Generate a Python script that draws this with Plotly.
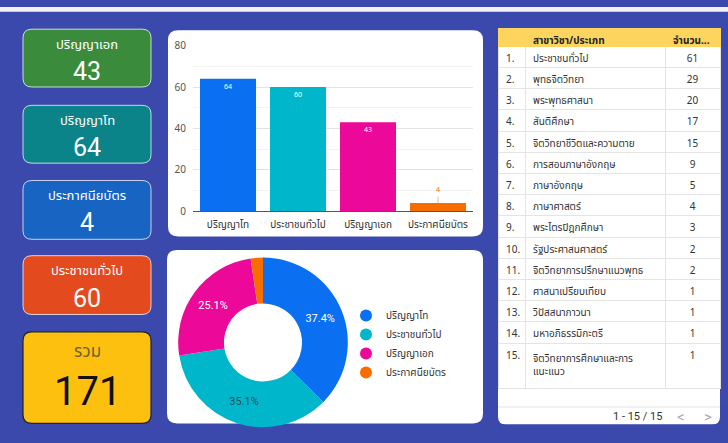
import plotly.graph_objects as go

W, H = 728, 443

# ---------------- data ----------------
kpi_titles = ["ปริญญาเอก", "ปริญญาโท", "ประกาศนียบัตร", "ประชาชนทั่วไป"]
kpi_values = [43, 64, 4, 60]
total_title = "รวม"
total_value = 171

bar_categories = ["ปริญญาโท", "ประชาชนทั่วไป", "ปริญญาเอก", "ประกาศนียบัตร"]
bar_values = [64, 60, 43, 4]

table_index = [f"{i}." for i in range(1, 16)]
table_names = [
    "ประชาชนทั่วไป", "พุทธจิตวิทยา", "พระพุทธศาสนา", "สันติศึกษา",
    "จิตวิทยาชีวิตและความตาย", "การสอนภาษาอังกฤษ", "ภาษาอังกฤษ", "ภาษาศาสตร์",
    "พระไตรปิฎกศึกษา", "รัฐประศาสนศาสตร์", "จิตวิทยาการปรึกษาแนวพุทธ",
    "ศาสนาเปรียบเทียบ", "วิปัสสนาภาวนา", "มหาอภิธรรมิกะตรี",
    "จิตวิทยาการศึกษาและการ<br>แนะแนว",
]
table_counts = [61, 29, 20, 17, 15, 9, 5, 4, 3, 2, 2, 1, 1, 1, 1]
table_header = [" ", "สาขาวิชา/ประเภท", "จำนวน..."]
pager_text = "1 - 15 / 15"

# ---------------- style ----------------
BG = "#3a49ab"
FONT = "Noto Sans Thai, Leelawadee UI, Tahoma, Sarabun, Noto Sans, Roboto, sans-serif"
kpi_colors = ["#3a8c3c", "#0a8489", "#1764c2", "#e34a1e"]
series_colors = ["#0a6ff0", "#00b6cb", "#ec0898", "#f66d00"]


def px(x):
    return x / W


def py(y):
    return 1 - y / H


def rr(x0, y0, x1, y1, r, rt=True, rb=True):
    rt_ = r if rt else 0
    rb_ = r if rb else 0
    pts = [
        ("M", [(x0 + rt_, y0)]),
        ("L", [(x1 - rt_, y0)]),
        ("Q", [(x1, y0), (x1, y0 + rt_)]),
        ("L", [(x1, y1 - rb_)]),
        ("Q", [(x1, y1), (x1 - rb_, y1)]),
        ("L", [(x0 + rb_, y1)]),
        ("Q", [(x0, y1), (x0, y1 - rb_)]),
        ("L", [(x0, y0 + rt_)]),
        ("Q", [(x0, y0), (x0 + rt_, y0)]),
    ]
    s = ""
    for cmd, ps in pts:
        s += cmd + " " + " ".join(f"{px(a):.5f},{py(b):.5f}" for a, b in ps) + " "
    return s + "Z"


def note(x, y, text, size, color, family=FONT, xanchor="center"):
    return dict(x=px(x), y=py(y), xref="paper", yref="paper", text=text, showarrow=False,
                xanchor=xanchor, yanchor="middle", font=dict(size=size, color=color, family=family))


shapes = []
annotations = []

# top light strip
shapes.append(dict(type="rect", xref="paper", yref="paper", x0=0, x1=1,
                   y0=py(5), y1=1, fillcolor="#f3f3f3", line=dict(width=0), layer="below"))

# KPI cards
card_boxes = [(23, 83), (102, 162), (180, 241), (258, 319)]
for (y0, y1), t, v, c in zip(card_boxes, kpi_titles, kpi_values, kpi_colors):
    shapes.append(dict(type="path", xref="paper", yref="paper", path=rr(23, y0, 151, y1, 9),
                       fillcolor=c, line=dict(color="rgba(255,255,255,0.75)", width=1), layer="below"))
    annotations.append(note(87, y0 + 16, t, 13, "white"))
    annotations.append(note(87, y0 + 44, str(v), 25, "white", "Roboto, sans-serif"))

shapes.append(dict(type="path", xref="paper", yref="paper", path=rr(23, 337, 151, 432, 9),
                   fillcolor="#fec00f", line=dict(color="#222222", width=1.2), layer="below"))
annotations.append(note(87, 358, total_title, 17, "#6e6230"))
annotations.append(note(87, 399, str(total_value), 40, "#111111", "Roboto, sans-serif"))

# panels
shapes.append(dict(type="path", xref="paper", yref="paper", path=rr(168, 24, 483, 238, 10),
                   fillcolor="white", line=dict(width=0), layer="below"))
shapes.append(dict(type="path", xref="paper", yref="paper", path=rr(167, 252, 483, 432, 10),
                   fillcolor="white", line=dict(width=0), layer="below"))
shapes.append(dict(type="path", xref="paper", yref="paper", path=rr(498, 22, 720, 433, 8, rt=False),
                   fillcolor="white", line=dict(width=0), layer="below"))
# pager
shapes.append(dict(type="line", xref="paper", yref="paper", x0=px(498), x1=px(720),
                   y0=py(415), y1=py(415), line=dict(color="#e2e2e2", width=1), layer="below"))
annotations.append(note(664, 425, pager_text, 11, "#333", "Roboto, sans-serif", xanchor="right"))
annotations.append(note(681, 425, "&lt;", 15, "#aaaaaa", "Roboto, sans-serif"))
annotations.append(note(708, 425, "&gt;", 15, "#aaaaaa", "Roboto, sans-serif"))

# ---------------- bar chart ----------------
bar_text = [str(v) for v in bar_values[:3]] + [""]
bar = go.Bar(
    x=bar_categories, y=bar_values, marker=dict(color=series_colors, line=dict(width=0)),
    text=bar_text, textposition="inside", insidetextanchor="end",
    textfont=dict(size=7, color="white"), showlegend=False, width=0.8,
    hoverinfo="x+y", cliponaxis=False, xaxis="x", yaxis="y",
)
annotations.append(dict(x=bar_categories[3], y=bar_values[3], xref="x", yref="y",
                        text=str(bar_values[3]), showarrow=True, arrowhead=0, arrowwidth=0.8,
                        arrowcolor="#f3a36a", ax=0, ay=-13, standoff=0,
                        font=dict(size=7, color="#f66d00")))

# ---------------- donut ----------------
tot = sum(bar_values)
pie_text = [f"{v / tot * 100:.1f}%" for v in bar_values[:3]] + [""]
pie = go.Pie(
    labels=bar_categories, values=bar_values, hole=0.46, sort=False, direction="clockwise",
    rotation=0, marker=dict(colors=series_colors, line=dict(width=0)),
    text=pie_text, textinfo="text", textposition="inside", insidetextorientation="horizontal",
    textfont=dict(size=11, color=["white", "#28545c", "white", "white"], family="Roboto, sans-serif"),
    showlegend=False,
    domain=dict(x=[px(175), px(351)], y=[py(436), py(260)]),
)

legend_traces = [
    go.Scatter(x=[None], y=[None], mode="markers", name=n,
               marker=dict(size=12, color=c, symbol="circle"), xaxis="x2", yaxis="y2")
    for n, c in zip(bar_categories, series_colors)
]

# ---------------- table ----------------
table = go.Table(
    domain=dict(x=[px(498), px(720)], y=[py(415), py(22)]),
    columnwidth=[27, 140, 55],
    header=dict(values=table_header, fill_color="#fcd45e", line_color="#fcd45e",
                align=["left", "left", "left"], height=18,
                font=dict(size=10, color="#222222", family=FONT, weight="bold")),
    cells=dict(values=[table_index, table_names, table_counts], fill_color="white",
               line_color="#e4e4e4", align=["left", "left", "center"], height=21.2,
               font=dict(size=10, color="#333333", family=FONT)),
)

fig = go.Figure(data=[bar, pie, table] + legend_traces)
fig.update_layout(
    width=W, height=H, autosize=False,
    margin=dict(l=0, r=0, t=0, b=0),
    paper_bgcolor=BG, plot_bgcolor="rgba(0,0,0,0)",
    font=dict(family=FONT, color="#333"),
    shapes=shapes, annotations=annotations,
    bargap=0.2,
    xaxis=dict(domain=[px(193), px(473)], anchor="y", showline=True, linecolor="#555555",
               linewidth=1, ticks="", tickfont=dict(size=10, color="#333"), showgrid=False,
               ticklabelstandoff=4, fixedrange=True),
    yaxis=dict(domain=[py(212), py(40)], anchor="x", range=[0, 80], dtick=20,
               gridcolor="#e3e3e3", zeroline=False, ticks="",
               tickfont=dict(size=10, color="#555"), ticklabelstandoff=6,
               minor=dict(dtick=10, showgrid=True, gridcolor="#f3f3f3"), fixedrange=True),
    xaxis2=dict(domain=[0, 0.001], anchor="y2", visible=False),
    yaxis2=dict(domain=[0, 0.001], anchor="x2", visible=False),
    legend=dict(x=px(346), y=py(305), xanchor="left", yanchor="top", bgcolor="rgba(0,0,0,0)",
                font=dict(size=10, color="#333", family=FONT), tracegroupgap=0,
                itemclick=False, itemdoubleclick=False),
)

fig.write_html("out.html", config={"displayModeBar": False},
               post_script="document.body.style.margin='0';document.body.style.overflow='hidden';")
